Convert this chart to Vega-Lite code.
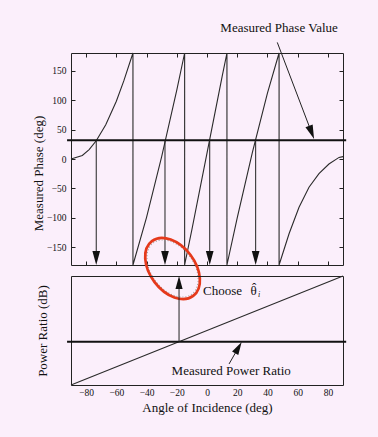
{
  "$schema": "https://vega.github.io/schema/vega-lite/v6.json",
  "background": "#fbeffb",
  "padding": {"left": 31, "top": 21, "right": 36, "bottom": 24},
  "config": {
    "font": "Liberation Serif",
    "view": {"stroke": "#222", "strokeWidth": 1},
    "axis": {
      "labelFont": "Liberation Serif", "titleFont": "Liberation Serif",
      "labelFontSize": 9.5, "titleFontSize": 13, "titleFontWeight": "normal",
      "labelColor": "#111", "titleColor": "#111", "grid": false, "domain": false,
      "tickColor": "#222", "tickWidth": 1, "labelOverlap": false, "minExtent": 0
    }
  },
  "datasets": {
    "phase": [
      {"i": 1, "angle": -90, "phase": 0}, {"i": 2, "angle": -82.5, "phase": 6},
      {"i": 3, "angle": -78, "phase": 16}, {"i": 4, "angle": -73.3, "phase": 31},
      {"i": 5, "angle": -67, "phase": 58}, {"i": 6, "angle": -60, "phase": 98},
      {"i": 7, "angle": -55, "phase": 133}, {"i": 8, "angle": -49, "phase": 180},
      {"i": 9, "angle": -49, "phase": -180}, {"i": 10, "angle": -40, "phase": -99},
      {"i": 11, "angle": -30, "phase": 4}, {"i": 12, "angle": -20, "phase": 117},
      {"i": 13, "angle": -14.8, "phase": 180}, {"i": 14, "angle": -14.8, "phase": -180},
      {"i": 15, "angle": -10, "phase": -120}, {"i": 16, "angle": 0, "phase": 10},
      {"i": 17, "angle": 10, "phase": 140}, {"i": 18, "angle": 13.2, "phase": 180},
      {"i": 19, "angle": 13.2, "phase": -180}, {"i": 20, "angle": 20, "phase": -100},
      {"i": 21, "angle": 30, "phase": 11}, {"i": 22, "angle": 40, "phase": 112},
      {"i": 23, "angle": 47.7, "phase": 180}, {"i": 24, "angle": 47.7, "phase": -180},
      {"i": 25, "angle": 54.3, "phase": -127}, {"i": 26, "angle": 60.9, "phase": -82},
      {"i": 27, "angle": 67.5, "phase": -48}, {"i": 28, "angle": 74.1, "phase": -25},
      {"i": 29, "angle": 80.7, "phase": -8.5}, {"i": 30, "angle": 87.4, "phase": 2.7},
      {"i": 31, "angle": 90, "phase": 4}
    ],
    "phaseLevel": [{"a1": -92.6, "a2": 92.1, "phase": 32}],
    "phaseArrows": [
      {"angle": -73.3, "p1": 32, "p2": -168},
      {"angle": -27.8, "p1": 32, "p2": -168},
      {"angle": 1.8, "p1": 32, "p2": -168},
      {"angle": 32.2, "p1": 32, "p2": -168}
    ],
    "phaseNote": [{"angle": 47.7, "phase": 221.8, "label": "Measured Phase Value"}],
    "phasePointer": [{"a1": 46.5, "p1": 198, "a2": 69.2, "p2": 45}],
    "phasePointerHead": [{"angle": 69.2, "phase": 45}],
    "circle": [{"angle": -22.8, "phase": -186}],
    "power": [{"angle": -90, "ratio": 0}, {"angle": 90, "ratio": 100}],
    "powerLevel": [{"a1": -92.6, "a2": 92.1, "ratio": 39.7}],
    "powerArrow": [{"angle": -18.5, "r1": 39.7, "r2": 94}],
    "powerArrowHead": [{"angle": -18.5, "ratio": 94}],
    "powerNotes": [{"angle": 16, "ratio": 12.8, "label": "Measured Power Ratio"}],
    "chooseNote": [{"angle": -2.6, "ratio": 86.2, "label": "Choose"}],
    "thetaNote": [{"angle": 28.8, "ratio": 86.2, "label": "\u03b8"}],
    "hatNote": [{"angle": 31.2, "ratio": 85.3, "label": "\u02c6"}],
    "subNote": [{"angle": 33.8, "ratio": 82.5, "label": "i"}],
    "powerPointer": [{"a1": 14.6, "r1": 19.3, "a2": 20.8, "r2": 34.3}],
    "powerPointerHead": [{"angle": 20.8, "ratio": 34.3}]
  },
  "vconcat": [
    {
      "width": 272,
      "height": 212,
      "resolve": {"axis": {"x": "independent", "y": "independent"}},
      "layer": [
        {
          "data": {"name": "phase"},
          "mark": {"type": "line", "color": "#2a2a2a", "strokeWidth": 1.1},
          "encoding": {
            "x": {"field": "angle", "type": "quantitative", "scale": {"domain": [-90, 90], "nice": false},
                  "axis": {"orient": "bottom", "values": [-80, -60, -40, -20, 0, 20, 40, 60, 80], "labels": false, "tickSize": -4, "title": null}},
            "y": {"field": "phase", "type": "quantitative", "scale": {"domain": [-180, 180], "nice": false},
                  "axis": {"orient": "left", "values": [-150, -100, -50, 0, 50, 100, 150], "tickSize": -4, "labelPadding": 9, "title": "Measured Phase (deg)", "titlePadding": 1, "titleY": 120}},
            "order": {"field": "i", "type": "quantitative"}
          }
        },
        {
          "data": {"name": "phaseLevel"},
          "mark": {"type": "rule", "color": "#111", "strokeWidth": 2},
          "encoding": {
            "x": {"field": "a1", "type": "quantitative", "scale": {"domain": [-90, 90], "nice": false},
                  "axis": {"orient": "top", "values": [-80, -60, -40, -20, 0, 20, 40, 60, 80], "labels": false, "tickSize": -4, "title": null}},
            "x2": {"field": "a2"},
            "y": {"field": "phase", "type": "quantitative", "scale": {"domain": [-180, 180], "nice": false},
                  "axis": {"orient": "right", "values": [-150, -100, -50, 0, 50, 100, 150], "labels": false, "tickSize": -4, "title": null}}
          }
        },
        {
          "data": {"name": "phaseArrows"},
          "mark": {"type": "rule", "color": "#222", "strokeWidth": 1},
          "encoding": {
            "x": {"field": "angle", "type": "quantitative", "scale": {"domain": [-90, 90], "nice": false}, "axis": null},
            "y": {"field": "p1", "type": "quantitative", "scale": {"domain": [-180, 180], "nice": false}, "axis": null},
            "y2": {"field": "p2"}
          }
        },
        {
          "data": {"name": "phaseArrows"},
          "mark": {"type": "point", "shape": "M -0.55 -1 L 0.55 -1 L 0 1 Z", "size": 196, "filled": true, "color": "#111", "opacity": 1},
          "encoding": {
            "x": {"field": "angle", "type": "quantitative", "scale": {"domain": [-90, 90], "nice": false}, "axis": null},
            "y": {"field": "p2", "type": "quantitative", "scale": {"domain": [-180, 180], "nice": false}, "axis": null}
          }
        },
        {
          "data": {"name": "phaseNote"},
          "mark": {"type": "text", "font": "Liberation Serif", "fontSize": 13, "color": "#111", "baseline": "middle", "align": "center"},
          "encoding": {
            "x": {"field": "angle", "type": "quantitative", "scale": {"domain": [-90, 90], "nice": false}, "axis": null},
            "y": {"field": "phase", "type": "quantitative", "scale": {"domain": [-180, 180], "nice": false}, "axis": null},
            "text": {"field": "label"}
          }
        },
        {
          "data": {"name": "phasePointer"},
          "mark": {"type": "rule", "color": "#222", "strokeWidth": 1},
          "encoding": {
            "x": {"field": "a1", "type": "quantitative", "scale": {"domain": [-90, 90], "nice": false}, "axis": null},
            "y": {"field": "p1", "type": "quantitative", "scale": {"domain": [-180, 180], "nice": false}, "axis": null},
            "x2": {"field": "a2"},
            "y2": {"field": "p2"}
          }
        },
        {
          "data": {"name": "phasePointerHead"},
          "mark": {"type": "point", "shape": "M -0.55 -1 L 0.55 -1 L 0 1 Z", "size": 196, "filled": true, "color": "#111", "opacity": 1, "angle": 339},
          "encoding": {
            "x": {"field": "angle", "type": "quantitative", "scale": {"domain": [-90, 90], "nice": false}, "axis": null},
            "y": {"field": "phase", "type": "quantitative", "scale": {"domain": [-180, 180], "nice": false}, "axis": null}
          }
        },
        {
          "data": {"name": "circle"},
          "mark": {"type": "point", "shape": "M 1 0 C 1 0.363 0.552 0.657 0 0.657 C -0.552 0.657 -1 0.363 -1 0 C -1 -0.363 -0.552 -0.657 0 -0.657 C 0.552 -0.657 1 -0.363 1 0 Z", "size": 4100, "filled": false, "stroke": "#999", "strokeWidth": 1, "strokeDash": [1, 2], "opacity": 1, "angle": 53},
          "encoding": {
            "x": {"field": "angle", "type": "quantitative", "scale": {"domain": [-90, 90], "nice": false}, "axis": null},
            "y": {"field": "phase", "type": "quantitative", "scale": {"domain": [-180, 180], "nice": false}, "axis": null}
          }
        },
        {
          "data": {"name": "circle"},
          "mark": {"type": "point", "shape": "M 1 0 C 1 0.363 0.552 0.657 0 0.657 C -0.552 0.657 -1 0.363 -1 0 C -1 -0.363 -0.552 -0.657 0 -0.657 C 0.552 -0.657 1 -0.363 1 0 Z", "size": 4700, "filled": false, "stroke": "#e5391b", "strokeWidth": 2.7, "opacity": 1, "angle": 53},
          "encoding": {
            "x": {"field": "angle", "type": "quantitative", "scale": {"domain": [-90, 90], "nice": false}, "axis": null},
            "y": {"field": "phase", "type": "quantitative", "scale": {"domain": [-180, 180], "nice": false}, "axis": null}
          }
        }
      ]
    },
    {
      "width": 272,
      "height": 109,
      "resolve": {"axis": {"x": "independent", "y": "independent"}},
      "layer": [
        {
          "data": {"name": "power"},
          "mark": {"type": "line", "color": "#2a2a2a", "strokeWidth": 1.1},
          "encoding": {
            "x": {"field": "angle", "type": "quantitative", "scale": {"domain": [-90, 90], "nice": false},
                  "axis": {"orient": "bottom", "values": [-80, -60, -40, -20, 0, 20, 40, 60, 80], "ticks": false, "labelPadding": 2, "title": "Angle of Incidence (deg)", "titlePadding": 5}},
            "y": {"field": "ratio", "type": "quantitative", "scale": {"domain": [0, 100], "nice": false},
                  "axis": {"orient": "left", "labels": false, "ticks": false, "title": "Power Ratio (dB)", "titlePadding": 22}}
          }
        },
        {
          "data": {"name": "powerLevel"},
          "mark": {"type": "rule", "color": "#111", "strokeWidth": 2},
          "encoding": {
            "x": {"field": "a1", "type": "quantitative", "scale": {"domain": [-90, 90], "nice": false}, "axis": null},
            "x2": {"field": "a2"},
            "y": {"field": "ratio", "type": "quantitative", "scale": {"domain": [0, 100], "nice": false}, "axis": null}
          }
        },
        {
          "data": {"name": "powerArrow"},
          "mark": {"type": "rule", "color": "#222", "strokeWidth": 1},
          "encoding": {
            "x": {"field": "angle", "type": "quantitative", "scale": {"domain": [-90, 90], "nice": false}, "axis": null},
            "y": {"field": "r1", "type": "quantitative", "scale": {"domain": [0, 100], "nice": false}, "axis": null},
            "y2": {"field": "r2"}
          }
        },
        {
          "data": {"name": "powerArrowHead"},
          "mark": {"type": "point", "shape": "M -0.55 1 L 0.55 1 L 0 -1 Z", "size": 169, "filled": true, "color": "#111", "opacity": 1},
          "encoding": {
            "x": {"field": "angle", "type": "quantitative", "scale": {"domain": [-90, 90], "nice": false}, "axis": null},
            "y": {"field": "ratio", "type": "quantitative", "scale": {"domain": [0, 100], "nice": false}, "axis": null}
          }
        },
        {
          "data": {"name": "powerNotes"},
          "mark": {"type": "text", "font": "Liberation Serif", "fontSize": 13, "color": "#111", "baseline": "middle", "align": "center"},
          "encoding": {
            "x": {"field": "angle", "type": "quantitative", "scale": {"domain": [-90, 90], "nice": false}, "axis": null},
            "y": {"field": "ratio", "type": "quantitative", "scale": {"domain": [0, 100], "nice": false}, "axis": null},
            "text": {"field": "label"}
          }
        },
        {
          "data": {"name": "chooseNote"},
          "mark": {"type": "text", "font": "Liberation Serif", "fontSize": 13, "color": "#111", "baseline": "middle", "align": "left"},
          "encoding": {
            "x": {"field": "angle", "type": "quantitative", "scale": {"domain": [-90, 90], "nice": false}, "axis": null},
            "y": {"field": "ratio", "type": "quantitative", "scale": {"domain": [0, 100], "nice": false}, "axis": null},
            "text": {"field": "label"}
          }
        },
        {
          "data": {"name": "thetaNote"},
          "mark": {"type": "text", "font": "Liberation Serif", "fontSize": 13, "color": "#111", "baseline": "middle", "align": "left"},
          "encoding": {
            "x": {"field": "angle", "type": "quantitative", "scale": {"domain": [-90, 90], "nice": false}, "axis": null},
            "y": {"field": "ratio", "type": "quantitative", "scale": {"domain": [0, 100], "nice": false}, "axis": null},
            "text": {"field": "label"}
          }
        },
        {
          "data": {"name": "hatNote"},
          "mark": {"type": "text", "font": "Liberation Serif", "fontSize": 13, "color": "#111", "baseline": "alphabetic", "align": "center"},
          "encoding": {
            "x": {"field": "angle", "type": "quantitative", "scale": {"domain": [-90, 90], "nice": false}, "axis": null},
            "y": {"field": "ratio", "type": "quantitative", "scale": {"domain": [0, 100], "nice": false}, "axis": null},
            "text": {"field": "label"}
          }
        },
        {
          "data": {"name": "subNote"},
          "mark": {"type": "text", "font": "Liberation Serif", "fontSize": 8, "fontStyle": "italic", "color": "#111", "baseline": "middle", "align": "left"},
          "encoding": {
            "x": {"field": "angle", "type": "quantitative", "scale": {"domain": [-90, 90], "nice": false}, "axis": null},
            "y": {"field": "ratio", "type": "quantitative", "scale": {"domain": [0, 100], "nice": false}, "axis": null},
            "text": {"field": "label"}
          }
        },
        {
          "data": {"name": "powerPointer"},
          "mark": {"type": "rule", "color": "#222", "strokeWidth": 1},
          "encoding": {
            "x": {"field": "a1", "type": "quantitative", "scale": {"domain": [-90, 90], "nice": false}, "axis": null},
            "y": {"field": "r1", "type": "quantitative", "scale": {"domain": [0, 100], "nice": false}, "axis": null},
            "x2": {"field": "a2"},
            "y2": {"field": "r2"}
          }
        },
        {
          "data": {"name": "powerPointerHead"},
          "mark": {"type": "point", "shape": "M -0.55 1 L 0.55 1 L 0 -1 Z", "size": 169, "filled": true, "color": "#111", "opacity": 1, "angle": 30},
          "encoding": {
            "x": {"field": "angle", "type": "quantitative", "scale": {"domain": [-90, 90], "nice": false}, "axis": null},
            "y": {"field": "ratio", "type": "quantitative", "scale": {"domain": [0, 100], "nice": false}, "axis": null}
          }
        }
      ]
    }
  ],
  "spacing": 11,
  "bounds": "flush"
}
